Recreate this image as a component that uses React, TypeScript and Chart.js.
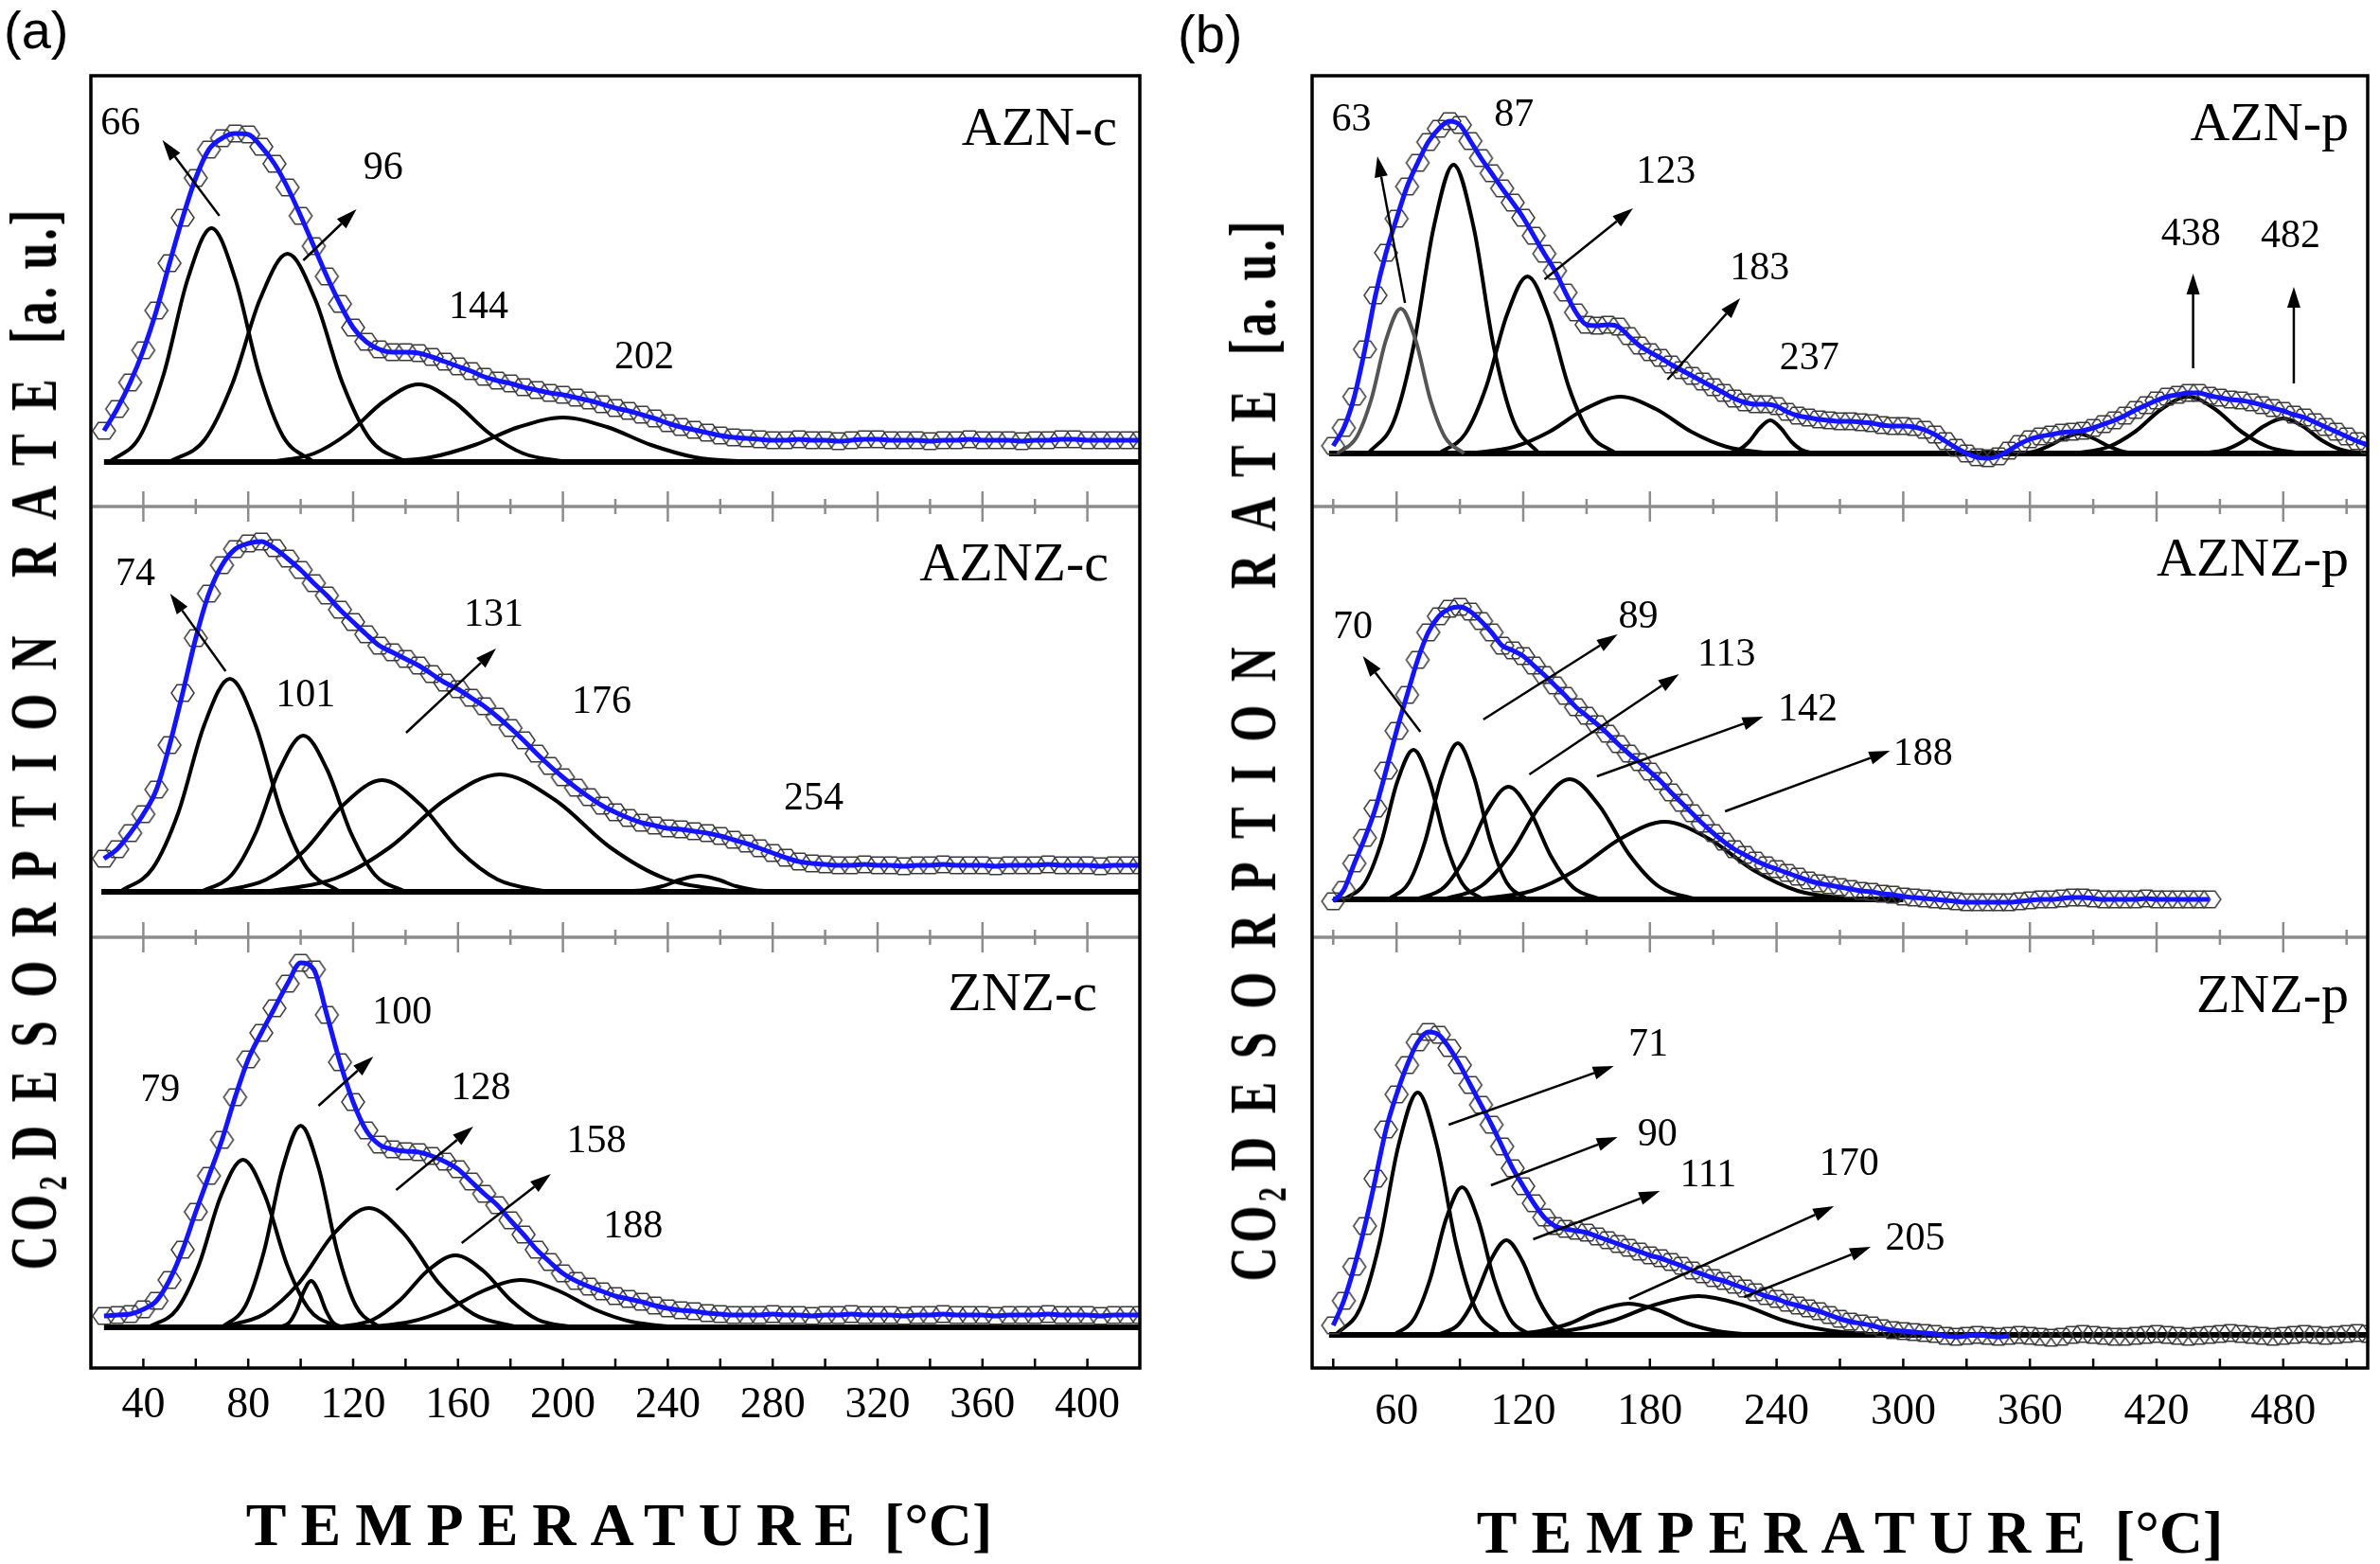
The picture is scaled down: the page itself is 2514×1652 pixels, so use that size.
import React, { useEffect, useRef } from 'react';
import { Chart, registerables } from 'chart.js';

Chart.register(...registerables);

// temperature grids of the measured traces (°C)
const tempA = [25, 30, 35, 40, 45, 50, 55, 60, 65, 70, 75, 80, 85, 90, 95, 100, 105, 110, 115, 120, 125, 130, 135, 140, 145, 150, 155, 160, 165, 170, 175, 180, 185, 190, 195, 200, 205, 210, 215, 220, 225, 230, 235, 240, 245, 250, 255, 260, 265, 270, 275, 280, 285, 290, 295, 300, 305, 310, 315, 320, 325, 330, 335, 340, 345, 350, 355, 360, 365, 370, 375, 380, 385, 390, 395, 400, 405, 410, 415, 420];
const tempB = [30, 35, 40, 45, 50, 55, 60, 65, 70, 75, 80, 85, 90, 95, 100, 105, 110, 115, 120, 125, 130, 135, 140, 145, 150, 155, 160, 165, 170, 175, 180, 185, 190, 195, 200, 205, 210, 215, 220, 225, 230, 235, 240, 245, 250, 255, 260, 265, 270, 275, 280, 285, 290, 295, 300, 305, 310, 315, 320, 325, 330, 335, 340, 345, 350, 355, 360, 365, 370, 375, 380, 385, 390, 395, 400, 405, 410, 415, 420, 425, 430, 435, 440, 445, 450, 455, 460, 465, 470, 475, 480, 485, 490, 495, 500, 505, 510, 515, 520];

// measured CO2 desorption rate (a.u.)
const aznC = [33, 56, 84, 118, 160, 210, 258, 300, 330, 342, 347, 346, 333, 315, 290, 260, 228, 196, 167, 142, 127, 119, 116, 116, 115, 111, 106, 101, 96, 90, 86, 83, 79, 76, 73, 71, 68, 65, 61, 57, 54, 50, 46, 41, 37, 34, 31, 28, 26, 25, 24, 23,
  23, 24, 23, 23, 22, 23, 24, 24, 23, 23, 23, 22, 23, 23, 24, 23, 23, 23, 22, 23, 23, 24, 24, 23, 23, 23, 23, 23];
const aznzC = [35, 45, 62, 82, 108, 155, 210, 268, 315, 345, 362, 368, 370, 363, 352, 340, 326, 313, 298, 285, 272, 260, 253, 246, 239, 230, 221, 214, 205, 196, 185, 173, 160, 146, 133, 121, 110, 100, 91, 84, 78, 73, 70, 67, 66, 64, 62, 59, 55, 51, 46, 41, 36, 32, 30, 29,
  28, 28, 29, 28, 28, 27, 28, 28, 29, 28, 28, 28, 27, 28, 28, 28, 29, 28, 28, 28, 27, 28, 28, 28];
const znzC = [12, 13, 14, 19, 28, 50, 82, 122, 160, 198, 243, 283, 311, 337, 363, 385, 378, 330, 280, 238, 208, 193, 188, 186, 185, 181, 175, 167, 154, 141, 129, 113, 98, 82, 69, 57, 49, 43, 38, 33, 30, 27, 23, 20, 18, 17, 15, 14, 13,
  13, 13, 14, 13, 13, 12, 13, 13, 14, 13, 13, 13, 12, 13, 13, 14, 13, 13, 13, 12, 13, 13, 13, 14, 13, 13, 13, 12, 13, 13, 13];
const aznP = [8, 27, 60, 110, 167, 212, 248, 282, 307, 329, 343, 351, 347, 330, 312, 296, 280, 265, 249, 230, 211, 193, 170, 149, 136, 135, 136, 134, 124, 114, 107, 101, 94, 88, 82, 76, 70, 64, 58, 54, 52, 52, 50, 44, 40, 38, 36, 35, 34, 34, 33, 32, 30, 29, 29, 28, 25, 20, 13, 6, 0, -4, -5, -3, 3, 10, 15, 18, 20, 22, 23, 24, 27, 31, 35, 40, 46, 51, 56, 60, 62, 64, 64, 61, 59, 57, 56, 54, 51, 48, 45, 41, 38, 33, 28, 23, 18, 13, 9];
const aznzP = [-2, 10, 38, 65, 96, 136, 178, 216, 253, 282, 299, 307, 309, 304, 294, 282, 268, 263, 257, 247, 237, 226, 215, 203, 194, 185, 175, 164, 154, 145, 135, 125, 113, 102, 91, 80, 70, 61, 53, 47, 41, 36, 32, 28, 24, 20, 17, 15, 13, 11, 9, 8, 6, 5, 3, 2, 1, 0, -1, -2, -3, -3, -3, -3, -3, -2, -1, 0, 0, 1, 2, 2, 1, 0, 0, 0, 0, 1, 0, 0, 0, 0, 0, 0];
const znzP = [10, 36, 72, 115, 165, 217, 254, 285, 309, 320, 317, 303, 285, 264, 243, 222, 199, 176, 157, 139, 124, 115, 112, 110, 108, 104, 100, 96, 92, 88, 84, 81, 77, 73, 68, 64, 60, 57, 53, 49, 45, 41, 38, 34, 31, 28, 25, 21, 17, 14, 12, 10, 7, 5, 4, 3, 2, 1, -1, -2, -1, 0, -1, -2, -1, 0, -1, -2, -3, -2, 0, 1, 0, -1, -2, -2, -1, 0, 1, 0, -1, -2, -1, 0, 1, 2, 1, 0, -1, -2, -1, 0, 1, 0, -1, 0, 1, 2, 1];

// deconvoluted components, [temperature, rate] pairs
const aznCPeaks = [
  [[27, 0], [38.7, 27], [47.8, 93], [56.9, 193], [66, 247], [75.1, 193], [84.2, 93], [93.3, 27], [105, 0]],
  [[50, 0], [63.5, 24], [74, 83], [84.5, 172], [95, 220], [105.5, 172], [116, 83], [126.5, 24], [140, 0]],
  [[88, 0], [105.1, 9], [118.4, 31], [131.7, 64], [145, 82], [158.3, 64], [171.6, 31], [184.9, 9], [202, 0]],
  [[128, 0], [149.6, 5], [166.4, 18], [183.2, 37], [200, 47], [216.8, 37], [233.6, 18], [250.4, 5], [272, 0]],
];
const aznzCPeaks = [
  [[31, 0], [43.6, 25], [53.4, 84], [63.2, 176], [73, 225], [82.8, 176], [92.6, 84], [102.4, 25], [115, 0]],
  [[62, 0], [73.7, 18], [82.8, 62], [91.9, 129], [101, 165], [110.1, 129], [119.2, 62], [128.3, 18], [140, 0]],
  [[68, 0], [86.9, 13], [101.6, 44], [116.3, 92], [131, 118], [145.7, 92], [160.4, 44], [175.1, 13], [194, 0]],
  [[86, 0], [113, 14], [134, 47], [155, 97], [176, 124], [197, 97], [218, 47], [239, 14], [266, 0]],
  [[222, 0], [231, 2], [238, 6], [245, 13], [252, 17], [259, 13], [266, 6], [273, 2], [282, 0]],
];
const znzCPeaks = [
  [[42, 0], [52.8, 19], [61.2, 66], [69.6, 139], [78, 177], [86.4, 139], [94.8, 66], [103.2, 19], [114, 0]],
  [[70, 0], [79, 23], [86, 80], [93, 167], [100, 213], [107, 167], [114, 80], [121, 23], [130, 0]],
  [[92, 0], [95.6, 5], [98.4, 18], [101.2, 38], [104, 49], [106.8, 38], [109.6, 18], [112.4, 5], [116, 0]],
  [[69, 0], [86.1, 14], [99.4, 47], [112.7, 99], [126, 126], [139.3, 99], [152.6, 47], [165.9, 14], [183, 0]],
  [[114, 0], [127.5, 8], [138, 29], [148.5, 60], [159, 76], [169.5, 60], [180, 29], [190.5, 8], [204, 0]],
  [[124, 0], [142, 6], [156, 19], [170, 39], [184, 50], [198, 39], [212, 19], [226, 6], [244, 0]],
];
const aznPPeaks = [
  [[32, 0], [41, 17], [48, 57], [55, 120], [62, 153], [69, 120], [76, 57], [83, 17], [92, 0]],
  [[46.5, 0], [58.7, 34], [68.1, 114], [77.6, 239], [87, 305], [96.5, 239], [105.9, 114], [115.4, 34], [127.5, 0]],
  [[80, 0], [92.6, 21], [102.4, 70], [112.2, 146], [122, 187], [131.8, 146], [141.6, 70], [151.4, 21], [164, 0]],
  [[94, 0], [115.6, 7], [132.4, 23], [149.2, 47], [166, 60], [182.8, 47], [199.6, 23], [216.4, 7], [238, 0]],
  [[216, 0], [222.3, 4], [227.2, 13], [232.1, 27], [237, 35], [241.9, 27], [246.8, 13], [251.7, 4], [258, 0]],
  [[353, 0], [362, 2], [369, 8], [376, 16], [383, 21], [390, 16], [397, 8], [404, 2], [413, 0]],
  [[381, 0], [397.2, 7], [409.8, 23], [422.4, 47], [435, 60], [447.6, 47], [460.2, 23], [472.8, 7], [489, 0]],
  [[441, 0], [452.7, 4], [461.8, 14], [470.9, 29], [480, 37], [489.1, 29], [498.2, 14], [507.3, 4], [519, 0]],
];
const aznzPPeaks = [
  [[35, 0], [44.9, 17], [52.6, 59], [60.3, 124], [68, 158], [75.7, 124], [83.4, 59], [91.1, 17], [101, 0]],
  [[56, 0], [65.9, 18], [73.6, 62], [81.3, 129], [89, 165], [96.7, 129], [104.4, 62], [112.1, 18], [122, 0]],
  [[69.5, 0], [82.6, 13], [92.7, 45], [102.9, 93], [113, 119], [123.2, 93], [133.3, 45], [143.5, 13], [156.5, 0]],
  [[82, 0], [100, 14], [114, 48], [128, 99], [142, 127], [156, 99], [170, 48], [184, 14], [202, 0]],
  [[97, 0], [124, 9], [145, 31], [166, 64], [187, 82], [208, 64], [229, 31], [250, 9], [277, 0]],
];
const znzPPeaks = [
  [[31, 0], [42.7, 28], [51.8, 96], [60.9, 200], [70, 256], [79.1, 200], [88.2, 96], [97.3, 28], [109, 0]],
  [[58.6, 0], [68.3, 17], [75.9, 59], [83.4, 122], [91, 156], [98.6, 122], [106.1, 59], [113.7, 17], [123.4, 0]],
  [[79.6, 0], [89.3, 11], [96.9, 38], [104.4, 78], [112, 100], [119.6, 78], [127.1, 38], [134.7, 11], [144.4, 0]],
  [[110, 0], [128, 4], [142, 12], [156, 26], [170, 33], [184, 26], [198, 12], [212, 4], [230, 0]],
  [[116, 0], [142.1, 5], [162.4, 15], [182.7, 32], [203, 41], [223.3, 32], [243.6, 15], [263.9, 5], [290, 0]],
];

// peak temperature labels [text, temperature, rate] and arrows [fromT, fromRate, toT, toRate]
const aznCLabels = [['66', 31.3, 357], ['96', 131.5, 310], ['144', 167.8, 163], ['202', 231, 110]];
const aznCArrows = [[69, 260, 47.3, 340], [101, 213, 121.3, 267]];
const aznzCLabels = [['74', 37, 335], ['101', 101.9, 207], ['131', 173.6, 292], ['176', 214.8, 200], ['254', 295.6, 98]];
const aznzCArrows = [[71.4, 233, 50.2, 315], [140.2, 168, 174.5, 257]];
const znzCLabels = [['79', 46.4, 250], ['100', 138.7, 332], ['128', 168.7, 252], ['158', 212.8, 196], ['188', 226.8, 106]];
const znzCArrows = [[106.8, 234, 127.7, 286], [136.4, 145, 165.8, 212], [161.4, 89, 195.4, 162]];
const aznPLabels = [['63', 38.6, 352], ['87', 115.6, 357], ['123', 187.6, 297], ['183', 232, 195], ['237', 255.5, 100], ['438', 436.2, 231], ['482', 483.5, 229]];
const aznPArrows = [[64, 159, 50.9, 314], [130.1, 184, 172, 259], [188.3, 78, 222.8, 164], [437.3, 90, 437.3, 190], [485, 74, 485, 176]];
const aznzPLabels = [['70', 39.3, 287], ['89', 174.5, 298], ['113', 216.3, 258], ['142', 254.8, 200], ['188', 309.3, 153]];
const aznzPArrows = [[71.3, 177, 44, 257], [101.1, 190, 164.7, 280], [122.9, 132, 193.8, 238], [154.9, 130, 233.7, 193], [215.6, 93, 293.7, 157]];
const znzPLabels = [['71', 179.2, 306], ['90', 183.6, 211], ['111', 207.6, 168], ['170', 274.4, 180], ['205', 305.7, 101]];
const znzPArrows = [[84.7, 222, 162.9, 284], [104.7, 158, 164.7, 209], [124.7, 101, 184.7, 152], [170.1, 38, 267.2, 136], [224.6, 40, 284.6, 93]];

// axis ticks
const majorA = [40, 80, 120, 160, 200, 240, 280, 320, 360, 400];
const minorA = [60, 100, 140, 180, 220, 260, 300, 340, 380];
const majorB = [60, 120, 180, 240, 300, 360, 420, 480];
const minorB = [30, 90, 150, 210, 270, 330, 390, 450, 510];

const SERIF = '"Liberation Serif", "Times New Roman", serif';

const panelA = {
  left: 0, width: 1250, pad: { left: 96, top: 80, right: 46, bottom: 207 },
  xMin: 20, xMax: 420, major: majorA, minor: minorA, labelOffset: 40,
  subplots: [
    { name: 'AZN-c', temps: tempA, values: aznC, peaks: aznCPeaks, labels: aznCLabels, arrows: aznCArrows, base: [25, 420], yMin: -47, yMax: 408, nameRight: 24, nameBase: 73 },
    { name: 'AZNZ-c', temps: tempA, values: aznzC, peaks: aznzCPeaks, labels: aznzCLabels, arrows: aznzCArrows, base: [24, 420], yMin: -48, yMax: 407, nameRight: 33, nameBase: 78 },
    { name: 'ZNZ-c', temps: tempA, values: znzC, peaks: znzCPeaks, labels: znzCLabels, arrows: znzCArrows, base: [25, 420], yMin: -43, yMax: 412, nameRight: 45, nameBase: 77 },
  ],
};

const panelB = {
  left: 1250, width: 1264, pad: { left: 136, top: 80, right: 6, bottom: 207 },
  xMin: 20, xMax: 520, major: majorB, minor: minorB, labelOffset: 47,
  subplots: [
    { name: 'AZN-p', temps: tempB, values: aznP, peaks: aznPPeaks, gray: [0], labels: aznPLabels, arrows: aznPArrows, base: [28, 520], yMin: -56, yMax: 399, nameRight: 20, nameBase: 68 },
    { name: 'AZNZ-p', temps: tempB, values: aznzP, peaks: aznzPPeaks, labels: aznzPLabels, arrows: aznzPArrows, base: [30, 300], yMin: -40, yMax: 415, nameRight: 20, nameBase: 73 },
    { name: 'ZNZ-p', temps: tempB, values: znzP, fitTo: 350, peaks: znzPPeaks, labels: znzPLabels, arrows: znzPArrows, base: [28, 520], yMin: -35, yMax: 420, nameRight: 20, nameBase: 79 },
  ],
};

function hexMarker() {
  const c = document.createElement('canvas');
  c.width = 28;
  c.height = 24;
  const g = c.getContext('2d')!;
  g.strokeStyle = '#3a3a3a';
  g.lineWidth = 1.5;
  g.beginPath();
  for (let k = 0; k < 6; k++) {
    const a = (Math.PI / 3) * k;
    const px = 14 + 12 * Math.cos(a);
    const py = 12 + 10 * Math.sin(a);
    if (k === 0) g.moveTo(px, py);
    else g.lineTo(px, py);
  }
  g.closePath();
  g.stroke();
  return c;
}

function arrow(ctx: CanvasRenderingContext2D, x1: number, y1: number, x2: number, y2: number) {
  const ang = Math.atan2(y2 - y1, x2 - x1);
  const len = 22;
  const half = 7;
  const bx = x2 - len * Math.cos(ang);
  const by = y2 - len * Math.sin(ang);
  ctx.beginPath();
  ctx.moveTo(x1, y1);
  ctx.lineTo(bx, by);
  ctx.stroke();
  ctx.beginPath();
  ctx.moveTo(x2, y2);
  ctx.lineTo(bx + half * Math.sin(ang), by - half * Math.cos(ang));
  ctx.lineTo(bx - half * Math.sin(ang), by + half * Math.cos(ang));
  ctx.closePath();
  ctx.fill();
}

function decor(panel: any) {
  return {
    id: 'decor',
    afterDatasetsDraw(chart: any) {
      const { ctx, chartArea: area } = chart;
      const xs = chart.scales.x;
      const px = (v: number) => xs.getPixelForValue(v);
      const line = (a: number, b: number, c: number, d: number) => {
        ctx.beginPath();
        ctx.moveTo(a, b);
        ctx.lineTo(c, d);
        ctx.stroke();
      };
      ctx.save();
      panel.subplots.forEach((sp: any, i: number) => {
        const ys = chart.scales['y' + i];
        ctx.fillStyle = '#000';
        ctx.strokeStyle = '#000';
        ctx.font = `58px ${SERIF}`;
        ctx.textAlign = 'right';
        ctx.textBaseline = 'alphabetic';
        ctx.fillText(sp.name, area.right - sp.nameRight, ys.top + sp.nameBase);
        ctx.font = `42px ${SERIF}`;
        ctx.textAlign = 'center';
        ctx.textBaseline = 'middle';
        sp.labels.forEach((l: any) => ctx.fillText(l[0], px(l[1]), ys.getPixelForValue(l[2])));
        ctx.lineWidth = 2.5;
        sp.arrows.forEach((a: number[]) =>
          arrow(ctx, px(a[0]), ys.getPixelForValue(a[1]), px(a[2]), ys.getPixelForValue(a[3])));
      });
      // separators between the stacked curves
      ctx.strokeStyle = '#8c8c8c';
      for (let k = 1; k < panel.subplots.length; k++) {
        const y = chart.scales['y' + k].top;
        ctx.lineWidth = 3.5;
        line(area.left, y, area.right, y);
        ctx.lineWidth = 2.5;
        panel.major.forEach((v: number) => line(px(v), y - 16, px(v), y + 16));
        panel.minor.forEach((v: number) => line(px(v), y - 8, px(v), y + 8));
      }
      ctx.strokeStyle = '#000';
      ctx.lineWidth = 3.5;
      ctx.strokeRect(area.left, area.top, area.right - area.left, area.bottom - area.top);
      ctx.lineWidth = 2.5;
      [...panel.major, ...panel.minor].forEach((v: number) => line(px(v), area.bottom, px(v), area.bottom - 10));
      // temperature tick labels
      ctx.fillStyle = '#000';
      ctx.font = `46px ${SERIF}`;
      ctx.textAlign = 'center';
      ctx.textBaseline = 'middle';
      panel.major.forEach((v: number) => ctx.fillText(String(v), px(v), area.bottom + panel.labelOffset));
      ctx.restore();
    },
  };
}

function Panel({ panel }: { panel: any }) {
  const ref = useRef<HTMLCanvasElement | null>(null);

  useEffect(() => {
    if (!ref.current) return;
    const hex = hexMarker();
    const datasets: any[] = [];
    const scales: any = {
      x: {
        type: 'linear',
        position: 'bottom',
        min: panel.xMin,
        max: panel.xMax,
        grid: { display: false, drawTicks: false },
        border: { display: false },
        ticks: { display: false },
        afterFit: (s: any) => {
          s.height = 0;
        },
      },
    };

    panel.subplots.forEach((sp: any, i: number) => {
      const yAxisID = 'y' + i;
      scales[yAxisID] = {
        type: 'linear',
        position: 'left',
        stack: 'tpd',
        stackWeight: 1,
        weight: 3 - i,
        min: sp.yMin,
        max: sp.yMax,
        grid: { display: false, drawTicks: false },
        border: { display: false },
        ticks: { display: false },
        afterFit: (s: any) => {
          s.width = 0;
        },
      };
      const pts = sp.values.map((v: number, k: number) => ({ x: sp.temps[k], y: v }));
      const fitTo = sp.fitTo ?? Infinity;
      datasets.push({
        data: pts.filter((p: any) => p.x <= fitTo),
        yAxisID,
        borderColor: '#1414ff',
        borderWidth: 5,
        pointRadius: 0,
        cubicInterpolationMode: 'monotone',
        fill: false,
      });
      datasets.push({
        data: pts,
        yAxisID,
        showLine: false,
        pointStyle: hex,
        pointRadius: 12,
      });
      sp.peaks.forEach((pk: number[][], j: number) => {
        datasets.push({
          data: pk.map(([x, y]) => ({ x, y })),
          yAxisID,
          borderColor: sp.gray && sp.gray.includes(j) ? '#555' : '#000',
          borderWidth: 4,
          pointRadius: 0,
          cubicInterpolationMode: 'monotone',
          fill: false,
        });
      });
      datasets.push({
        data: [{ x: sp.base[0], y: 0 }, { x: sp.base[1], y: 0 }],
        yAxisID,
        borderColor: '#000',
        borderWidth: 6,
        pointRadius: 0,
      });
    });

    const chart = new Chart(ref.current, {
      type: 'line',
      data: { datasets },
      options: {
        responsive: false,
        maintainAspectRatio: false,
        animation: false,
        events: [],
        layout: { padding: panel.pad },
        plugins: { legend: { display: false }, tooltip: { enabled: false } },
        scales,
      },
      plugins: [decor(panel)],
    } as any);

    return () => {
      chart.destroy();
    };
  }, [panel]);

  return (
    <canvas
      ref={ref}
      width={panel.width}
      height={1652}
      style={{ position: 'absolute', left: panel.left, top: 0, width: panel.width, height: 1652 }}
    />
  );
}

const yTitleStyle: React.CSSProperties = {
  position: 'absolute',
  whiteSpace: 'nowrap',
  font: `bold 70px ${SERIF}`,
  lineHeight: '70px',
  color: '#000',
  transform: 'translate(-50%, -50%) rotate(-90deg) scaleX(0.72)',
};

const xTitleStyle: React.CSSProperties = {
  position: 'absolute',
  whiteSpace: 'nowrap',
  font: `bold 64px ${SERIF}`,
  lineHeight: '64px',
  color: '#000',
  transform: 'translateX(-50%)',
};

const tagStyle: React.CSSProperties = {
  position: 'absolute',
  font: '56px "Liberation Sans", Arial, sans-serif',
  lineHeight: '56px',
  color: '#000',
};

function YTitle({ left, top }: { left: number; top: number }) {
  return (
    <div style={{ ...yTitleStyle, left, top }}>
      <span style={{ letterSpacing: 6 }}>
        CO<sub style={{ fontSize: '0.6em', verticalAlign: '-0.25em', lineHeight: 0 }}>2</sub>
      </span>{' '}
      <span style={{ letterSpacing: 34 }}>DESORPTION RATE</span>{' '}
      <span style={{ letterSpacing: 4 }}>[a. u.]</span>
    </div>
  );
}

function XTitle({ left, top }: { left: number; top: number }) {
  return (
    <div style={{ ...xTitleStyle, left, top }}>
      <span style={{ letterSpacing: 15 }}>TEMPERATURE</span> <span>[°C]</span>
    </div>
  );
}

export default function App() {
  useEffect(() => {
    document.body.style.margin = '0';
  }, []);

  return (
    <div style={{ position: 'relative', width: 2514, height: 1652, background: '#fff', overflow: 'hidden' }}>
      <Panel panel={panelA} />
      <Panel panel={panelB} />
      <div style={{ ...tagStyle, left: 4, top: 4 }}>(a)</div>
      <div style={{ ...tagStyle, left: 1244, top: 8 }}>(b)</div>
      <YTitle left={36} top={780} />
      <YTitle left={1324} top={792} />
      <XTitle left={654} top={1579} />
      <XTitle left={1954} top={1587} />
    </div>
  );
}
